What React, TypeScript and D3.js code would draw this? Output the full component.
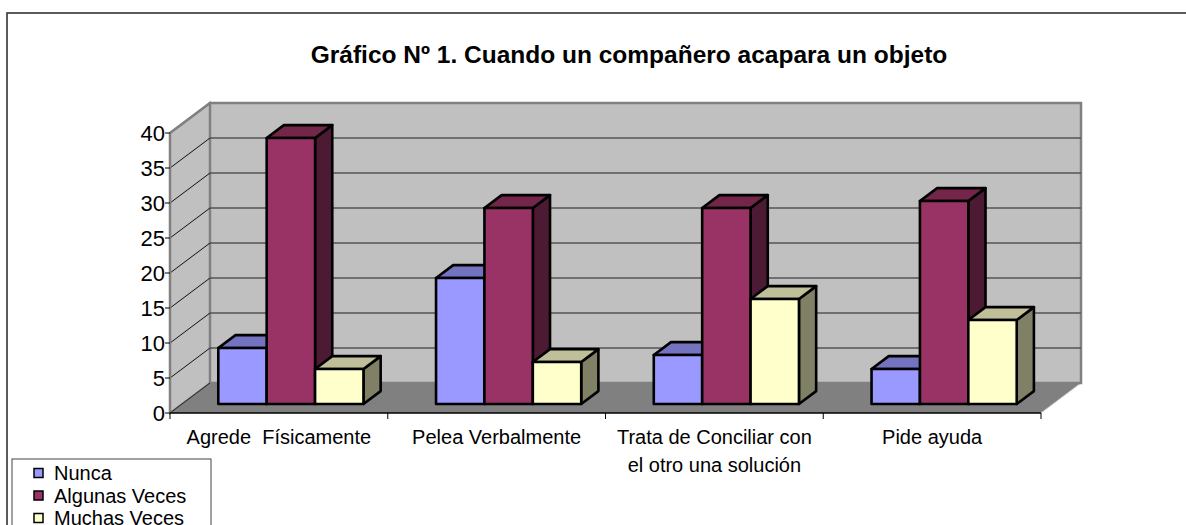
import React, { useEffect, useRef } from "react";
import * as d3 from "d3";

const categories = [
  "Agrede  Físicamente",
  "Pelea Verbalmente",
  "Trata de Conciliar con\nel otro una solución",
  "Pide ayuda",
];
const seriesNames = ["Nunca", "Algunas Veces", "Muchas Veces"];
const nunca = [8, 18, 7, 5];
const algunasVeces = [38, 28, 28, 29];
const muchasVeces = [5, 6, 15, 12];
const yTicks = [0, 5, 10, 15, 20, 25, 30, 35, 40];

const seriesValues = [nunca, algunasVeces, muchasVeces];
const front = ["#9999FF", "#993366", "#FFFFCC"];
const topC = ["#7373BF", "#732649", "#BFBF99"];
const sideC = ["#4D4D80", "#4D1A33", "#808066"];

const FONT = "'Liberation Sans', Arial, sans-serif";

export default function App() {
  const ref = useRef<SVGSVGElement>(null);

  useEffect(() => {
    const svg = d3.select(ref.current);
    svg.selectAll("*").remove();

    // plot geometry
    const left = 170, right = 1041, bottom = 413, top = 133;
    const DX = 40, DY = -30; // wall depth
    const f0 = 0.3, fd = 0.43; // bar front position and depth (fraction of wall depth)

    const x = d3.scaleBand().domain(categories).range([left, right]).padding(0);
    const inner = d3.scaleBand().domain(seriesNames).range([0, x.bandwidth()])
      .paddingInner(0).paddingOuter(0.75);
    const y = d3.scaleLinear().domain([0, 40]).range([bottom, top]);

    // outer frame
    svg.append("rect").attr("x", 7).attr("y", 13).attr("width", 1300).attr("height", 700)
      .attr("fill", "white").attr("stroke", "#333").attr("stroke-width", 1.6);

    // title
    svg.append("text").attr("x", 629).attr("y", 63).attr("text-anchor", "middle")
      .attr("font-family", FONT).attr("font-weight", "bold").attr("font-size", 24.5)
      .text("Gráfico Nº 1. Cuando un compañero acapara un objeto");

    const pts = (p: number[][]) => p.map((d) => d.join(",")).join(" ");

    // floor
    svg.append("polygon")
      .attr("points", pts([[left, bottom], [right, bottom], [right + DX, bottom + DY], [left + DX, bottom + DY]]))
      .attr("fill", "#808080");
    svg.append("line").attr("x1", right).attr("y1", bottom).attr("x2", right + DX).attr("y2", bottom + DY)
      .attr("stroke", "#d0d0d0").attr("stroke-width", 1);

    // side wall
    svg.append("polygon")
      .attr("points", pts([[left, bottom], [left + DX, bottom + DY], [left + DX, y(40) + DY], [left, y(40)]]))
      .attr("fill", "#C0C0C0").attr("stroke", "#808080").attr("stroke-width", 2);

    // back wall
    svg.append("rect").attr("x", left + DX).attr("y", y(40) + DY)
      .attr("width", right - left).attr("height", bottom - top)
      .attr("fill", "#C0C0C0").attr("stroke", "#808080").attr("stroke-width", 2.5);

    // gridlines
    const g = svg.append("g");
    g.selectAll(".gb").data(yTicks.filter((t) => t > 0 && t < 40)).join("line")
      .attr("x1", left + DX).attr("x2", right + DX)
      .attr("y1", (d) => y(d) + DY).attr("y2", (d) => y(d) + DY)
      .attr("stroke", "#555").attr("stroke-width", 1.6);
    g.selectAll(".gs").data(yTicks.filter((t) => t > 0 && t < 40)).join("line")
      .attr("x1", left).attr("y1", (d) => y(d))
      .attr("x2", left + DX).attr("y2", (d) => y(d) + DY)
      .attr("stroke", "#111").attr("stroke-width", 1);
    // top edge of side wall / floor back edge
    svg.append("line").attr("x1", left).attr("y1", y(40)).attr("x2", left + DX).attr("y2", y(40) + DY)
      .attr("stroke", "#808080").attr("stroke-width", 2.5);
    svg.append("line").attr("x1", left).attr("y1", bottom).attr("x2", left + DX).attr("y2", bottom + DY)
      .attr("stroke", "#222").attr("stroke-width", 1);

    // bars
    const ox = DX * f0, oy = DY * f0;
    const dx = DX * fd, dy = DY * fd;
    const bars = svg.append("g").attr("stroke", "#000").attr("stroke-width", 2.6)
      .attr("stroke-linejoin", "round");
    categories.forEach((c, ci) => {
      seriesNames.forEach((s, si) => {
        const v = seriesValues[si][ci];
        const x0 = (x(c) as number) + (inner(s) as number) + ox;
        const x1 = x0 + inner.bandwidth();
        const yb = y(0) + oy;
        const yt = y(v) + oy;
        bars.append("polygon")
          .attr("points", pts([[x1, yb], [x1 + dx, yb + dy], [x1 + dx, yt + dy], [x1, yt]]))
          .attr("fill", sideC[si]);
        bars.append("polygon")
          .attr("points", pts([[x0, yt], [x1, yt], [x1 + dx, yt + dy], [x0 + dx, yt + dy]]))
          .attr("fill", topC[si]);
        bars.append("rect").attr("x", x0).attr("y", yt)
          .attr("width", x1 - x0).attr("height", yb - yt).attr("fill", front[si]);
      });
    });

    // y axis
    svg.append("line").attr("x1", left).attr("x2", left).attr("y1", top).attr("y2", bottom)
      .attr("stroke", "#808080").attr("stroke-width", 2.5);
    svg.selectAll(".yt").data(yTicks).join("line")
      .attr("x1", left - 5).attr("x2", left).attr("y1", (d) => y(d)).attr("y2", (d) => y(d))
      .attr("stroke", "#000").attr("stroke-width", 1);
    svg.selectAll(".yl").data(yTicks).join("text")
      .attr("x", left - 5).attr("y", (d) => y(d)).attr("dy", "0.36em")
      .attr("text-anchor", "end").attr("font-family", FONT).attr("font-size", 22)
      .text((d) => d);

    // x axis
    svg.append("line").attr("x1", left).attr("x2", right).attr("y1", bottom).attr("y2", bottom)
      .attr("stroke", "#000").attr("stroke-width", 1.3);
    const bounds = categories.map((c) => x(c) as number).concat([right]);
    svg.selectAll(".xt").data(bounds).join("line")
      .attr("x1", (d) => d).attr("x2", (d) => d).attr("y1", bottom).attr("y2", bottom + 6)
      .attr("stroke", "#000").attr("stroke-width", 1);
    categories.forEach((c) => {
      const t = svg.append("text").attr("text-anchor", "middle")
        .attr("font-family", FONT).attr("font-size", 20).style("white-space", "pre");
      c.split("\n").forEach((line, li) => {
        t.append("tspan").attr("x", (x(c) as number) + x.bandwidth() / 2)
          .attr("y", 444 + li * 28).text(line);
      });
    });

    // legend
    svg.append("rect").attr("x", 12).attr("y", 459).attr("width", 199).attr("height", 100)
      .attr("fill", "white").attr("stroke", "#444").attr("stroke-width", 1);
    seriesNames.forEach((s, si) => {
      const cy = 473 + si * 22.5;
      svg.append("rect").attr("x", 34).attr("y", cy - 4.5).attr("width", 9).attr("height", 9)
        .attr("fill", front[si]).attr("stroke", "#000").attr("stroke-width", 1.5);
      svg.append("text").attr("x", 54).attr("y", cy).attr("dy", "0.36em")
        .attr("font-family", FONT).attr("font-size", 20).text(s);
    });
  }, []);

  return (
    <svg ref={ref} width={1186} height={525}
      style={{ position: "absolute", left: 0, top: 0, background: "white" }} />
  );
}
